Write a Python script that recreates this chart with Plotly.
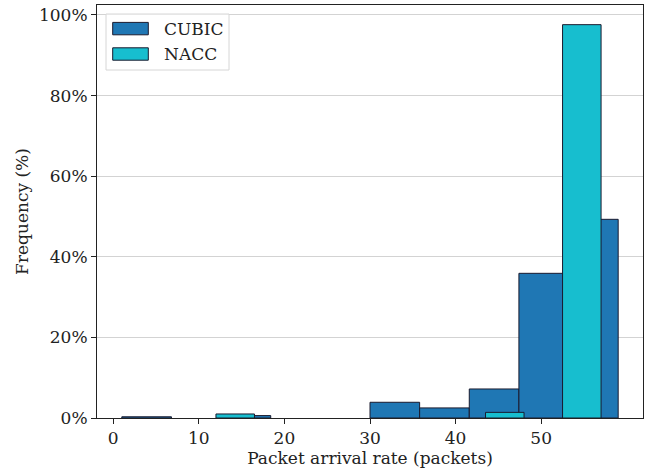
import numpy as np
import plotly.graph_objects as go

# Histogram bins (packets) and frequencies (%) for each congestion controller
cubic_edges = [1.0, 6.8, 12.6, 18.4, 24.2, 30.0, 35.8, 41.6, 47.4, 53.2, 59.0]
cubic_freq = [0.3, 0.0, 0.6, 0.0, 0.0, 3.9, 2.5, 7.2, 35.9, 49.3]

nacc_edges = [12.0, 16.5, 21.0, 25.5, 30.0, 34.5, 39.0, 43.5, 48.0, 52.5, 57.0]
nacc_freq = [1.0, 0.0, 0.0, 0.0, 0.0, 0.0, 0.0, 1.4, 0.0, 97.6]

x_ticks = [0, 10, 20, 30, 40, 50]
y_ticks = [0, 20, 40, 60, 80, 100]

series_names = ["CUBIC", "NACC"]
series_colors = ["#1f77b4", "#17becf"]

FONT = "DejaVu Serif"
FS = 17
EDGE = "#1a1a2e"
INK = "#222222"

W, H = 652, 472
ML, MR, MT, MB = 97, 9, 5, 54
PW, PH = W - ML - MR, H - MT - MB


def bar_trace(edges, freq, name, color):
    e = np.asarray(edges)
    f = np.asarray(freq)
    centers = (e[:-1] + e[1:]) / 2
    widths = e[1:] - e[:-1]
    keep = f > 0  # empty bins draw nothing
    return go.Bar(
        x=centers[keep], y=f[keep], width=widths[keep], name=name,
        marker=dict(color=color, line=dict(color=EDGE, width=1)),
        showlegend=False,
    )


fig = go.Figure()
fig.add_trace(bar_trace(cubic_edges, cubic_freq, series_names[0], series_colors[0]))
fig.add_trace(bar_trace(nacc_edges, nacc_freq, series_names[1], series_colors[1]))

lo = min(cubic_edges[0], nacc_edges[0])
hi = max(cubic_edges[-1], nacc_edges[-1])
pad = 0.05 * (hi - lo)
ymax = max(max(cubic_freq), max(nacc_freq)) * 1.05


# legend box drawn in plot-area coordinates (pixel offsets converted to paper units)
def px(x):
    return (x - ML) / PW


def py(y):
    return (H - MB - y) / PH


shapes = [dict(
    type="rect", xref="paper", yref="paper",
    x0=px(106), x1=px(229), y0=py(70), y1=py(14),
    line=dict(color="#d6d6d6", width=1), fillcolor="rgba(255,255,255,0.8)", layer="above",
)]
annotations = []
row_y = [28.6, 54.0]
for name, color, yc in zip(series_names, series_colors, row_y):
    shapes.append(dict(
        type="rect", xref="paper", yref="paper",
        x0=px(112.7), x1=px(148.3), y0=py(yc + 6.2), y1=py(yc - 6.2),
        line=dict(color=EDGE, width=1), fillcolor=color, layer="above",
    ))
    annotations.append(dict(
        text=name, xref="paper", yref="paper", x=px(162), y=py(yc),
        xanchor="left", yanchor="middle", showarrow=False,
        font=dict(family=FONT, size=FS, color=INK),
    ))

fig.update_layout(
    width=W, height=H,
    margin=dict(l=ML, r=MR, t=MT, b=MB),
    barmode="overlay",
    plot_bgcolor="white", paper_bgcolor="white",
    font=dict(family=FONT, size=FS, color=INK),
    showlegend=False,
    shapes=shapes, annotations=annotations,
)
fig.update_xaxes(
    range=[lo - pad, hi + pad], tickvals=x_ticks, ticktext=[str(v) for v in x_ticks],
    showgrid=False, zeroline=False,
    showline=True, linecolor=INK, linewidth=1, mirror=True,
    ticks="outside", ticklen=5, tickcolor=INK,
    tickfont=dict(family=FONT, size=FS, color=INK),
    title=dict(text="Packet arrival rate (packets)", font=dict(family=FONT, size=FS, color=INK), standoff=2),
)
fig.update_yaxes(
    range=[0, ymax], tickvals=y_ticks, ticktext=[f"{v}%" for v in y_ticks],
    showgrid=True, gridcolor="#d3d3d3", gridwidth=1, zeroline=False,
    showline=True, linecolor=INK, linewidth=1, mirror=True,
    ticks="outside", ticklen=5, tickcolor=INK,
    tickfont=dict(family=FONT, size=FS, color=INK),
    title=dict(text="Frequency (%)", font=dict(family=FONT, size=FS, color=INK), standoff=6),
)

fig.write_html("out.html")
